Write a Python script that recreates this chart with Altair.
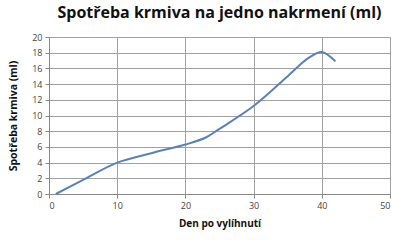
import altair as alt
import pandas as pd

days = [1, 5, 10, 15, 20, 23, 25, 30, 35, 38, 40, 42]
ml = [0, 1.8, 4.0, 5.2, 6.3, 7.2, 8.3, 11.2, 15.0, 17.3, 18.1, 16.9]

df = pd.DataFrame({"day": days, "ml": ml})

chart = alt.Chart(df).mark_line(
    interpolate="catmull-rom", color="#5b82b8", strokeWidth=2
).encode(
    x=alt.X("day:Q", scale=alt.Scale(domain=[0, 50], nice=False),
            axis=alt.Axis(values=[0, 10, 20, 30, 40, 50], title="Den po vylíhnutí",
                          titleFontSize=10, titleFontWeight="bold", titleFont="Open Sans",
                          titleColor="#111", titlePadding=8,
                          labelFont="Open Sans", labelFontSize=9, labelColor="#444",
                          tickSize=4, tickColor="#888", domainColor="#888",
                          gridColor="#a0a0a0", labelPadding=3)),
    y=alt.Y("ml:Q", scale=alt.Scale(domain=[0, 20], nice=False),
            axis=alt.Axis(values=list(range(0, 21, 2)), title="Spotřeba krmiva (ml)",
                          titleFontSize=10.5, titleFontWeight="bold", titleFont="Open Sans",
                          titleColor="#111", titlePadding=13,
                          labelFont="Open Sans", labelFontSize=9, labelColor="#444",
                          tickSize=4, tickColor="#888", domainColor="#888",
                          gridColor="#a0a0a0", labelPadding=3)),
).properties(
    width=341, height=157,
    title=alt.TitleParams("Spotřeba krmiva na jedno nakrmení (ml)", fontSize=16,
                          font="Open Sans", fontWeight="bold", color="#111",
                          anchor="middle", offset=12),
    padding={"left": 49, "top": 37, "right": 10, "bottom": 46},
    autosize=alt.AutoSizeParams(type="none"),
).configure_view(stroke="#a0a0a0", strokeWidth=1).configure(background="white")

chart.save("out.html", embed_options={"renderer": "svg", "actions": False})
